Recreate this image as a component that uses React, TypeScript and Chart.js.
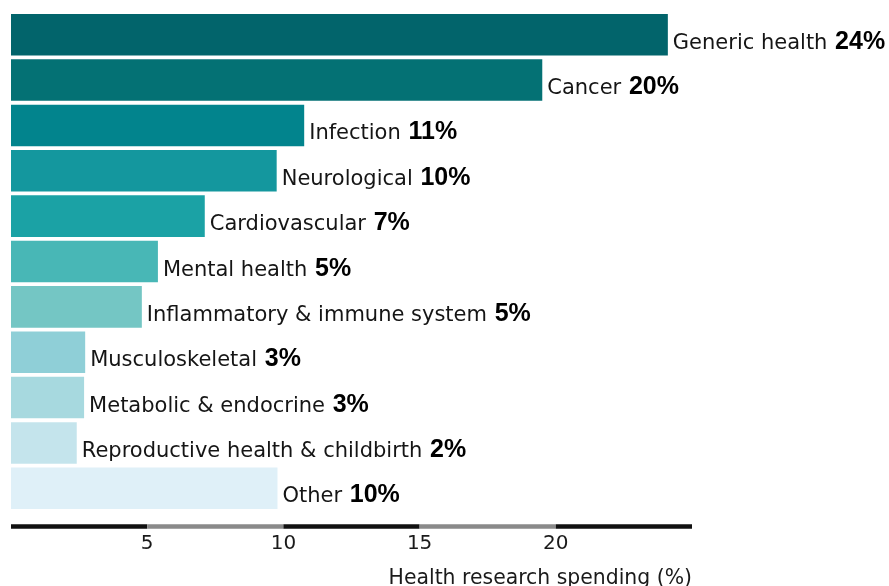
import React, { useEffect, useRef } from "react";
import { Chart, registerables } from "chart.js";

Chart.register(...registerables);

const categories = [
  "Generic health",
  "Cancer",
  "Infection",
  "Neurological",
  "Cardiovascular",
  "Mental health",
  "Inflammatory & immune system",
  "Musculoskeletal",
  "Metabolic & endocrine",
  "Reproductive health & childbirth",
  "Other",
];
const values = [24.15, 19.54, 10.8, 9.79, 7.15, 5.43, 4.84, 2.76, 2.72, 2.45, 9.82];
const valueLabels = ["24%", "20%", "11%", "10%", "7%", "5%", "5%", "3%", "3%", "2%", "10%"];
const barColors = [
  "#02646B",
  "#047174",
  "#02848D",
  "#14979E",
  "#1BA2A5",
  "#48B7B6",
  "#74C6C4",
  "#8FCFD7",
  "#A7D9DF",
  "#C4E4EC",
  "#DFF0F8",
];
const tickValues = [5, 10, 15, 20];
const axisStops = [0, 5, 10, 15, 20, 25];
const axisTitle = "Health research spending (%)";

const labelPlugin = {
  id: "barLabels",
  afterDatasetsDraw(chart: any) {
    const ctx = chart.ctx;
    const meta = chart.getDatasetMeta(0);
    ctx.save();
    ctx.textBaseline = "alphabetic";
    ctx.textAlign = "left";
    meta.data.forEach((el: any, i: number) => {
      const x = el.x + 4;
      const y = el.y + 14;
      ctx.font = "21px 'DejaVu Sans'";
      ctx.fillStyle = "#151515";
      const txt = categories[i] + " ";
      ctx.fillText(txt, x, y);
      const w = ctx.measureText(txt).width;
      ctx.font = "bold 25px 'Liberation Sans'";
      ctx.fillStyle = "#000";
      ctx.fillText(valueLabels[i], x + w + 1, y);
    });
    // segmented axis line
    const xs = chart.scales.x;
    const yLine = 526.5;
    ctx.lineWidth = 4.4;
    ctx.lineCap = "butt";
    for (let i = 0; i < axisStops.length - 1; i++) {
      ctx.beginPath();
      ctx.strokeStyle = i % 2 === 0 ? "#111111" : "#8a8a8a";
      ctx.moveTo(xs.getPixelForValue(axisStops[i]), yLine);
      ctx.lineTo(xs.getPixelForValue(axisStops[i + 1]), yLine);
      ctx.stroke();
    }
    ctx.restore();
  },
};

export default function App() {
  const ref = useRef<HTMLCanvasElement>(null);
  useEffect(() => {
    if (!ref.current) return;
    const chart = new Chart(ref.current, {
      type: "bar",
      data: {
        labels: categories,
        datasets: [
          {
            data: values,
            backgroundColor: barColors,
            borderColor: "rgba(255,255,255,0.35)",
            borderWidth: 1,
            barPercentage: 0.96,
            categoryPercentage: 1,
          },
        ],
      },
      options: {
        indexAxis: "y",
        responsive: false,
        animation: false,
        layout: { padding: { left: 11, right: 197, top: 12, bottom: 0 } },
        plugins: {
          legend: { display: false },
          tooltip: { enabled: false },
        },
        scales: {
          y: { display: false },
          x: {
            min: 0,
            max: 25,
            grid: { display: false, drawTicks: false },
            border: { display: false },
            afterBuildTicks(scale: any) {
              scale.ticks = tickValues.map((v) => ({ value: v }));
            },
            afterFit(scale: any) {
              scale.height = 75;
            },
            ticks: {
              padding: 21,
              color: "#1a1a1a",
              font: { family: "'DejaVu Sans'", size: 20 },
              maxRotation: 0,
            },
            title: {
              display: true,
              text: axisTitle,
              align: "end",
              color: "#1a1a1a",
              padding: 0,
              font: { family: "'DejaVu Sans'", size: 20.4, lineHeight: 0.75 },
            },
          },
        },
      },
      plugins: [labelPlugin],
    });
    return () => chart.destroy();
  }, []);
  return (
    <div style={{ position: "absolute", left: 0, top: 0, width: 889, height: 586, background: "#fff" }}>
      <canvas ref={ref} width={889} height={586} />
    </div>
  );
}
